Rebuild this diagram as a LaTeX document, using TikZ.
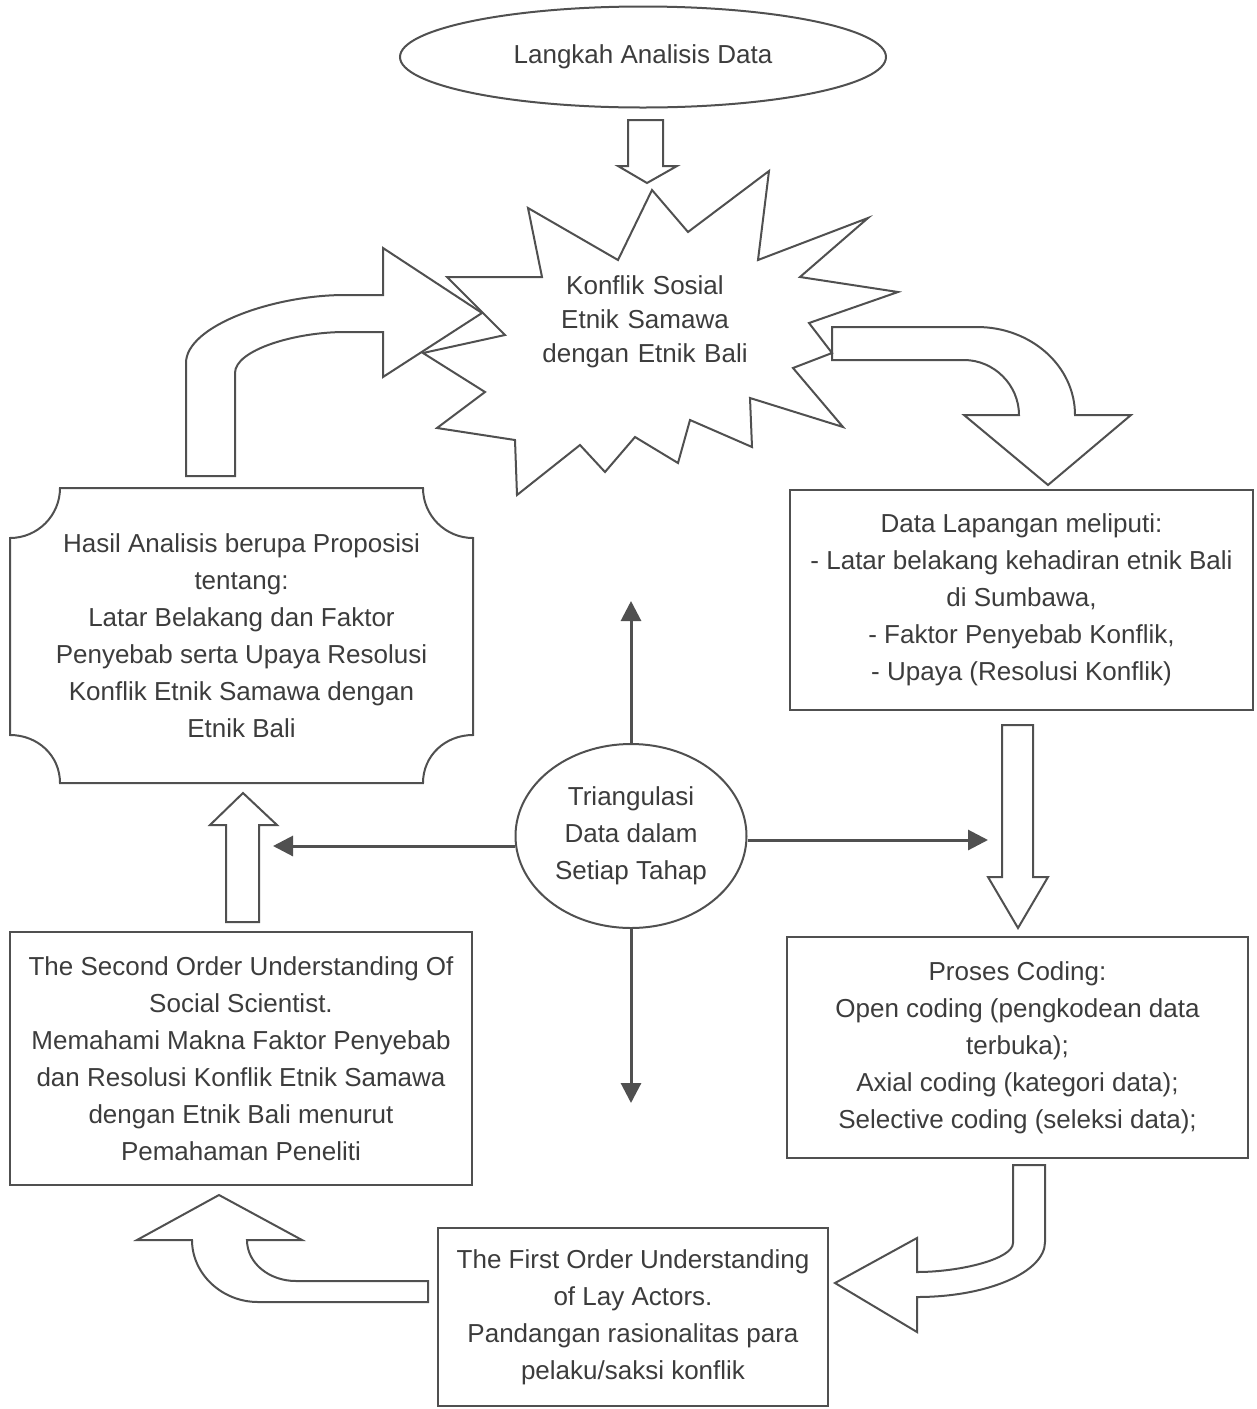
\documentclass[tikz,border=0pt]{standalone}
\usepackage{fontspec}
\setmainfont{Liberation Sans}
\usetikzlibrary{shapes.geometric,arrows.meta}
\definecolor{ln}{HTML}{505050}
\definecolor{tx}{HTML}{3C3C3C}
\begin{document}
\begin{tikzpicture}[x=1pt,y=-1pt,
  txt/.style={text=tx,font=\fontsize{26}{37}\selectfont,align=center,inner sep=0pt},
  box/.style={txt,draw=ln,line width=2pt,rectangle},
  blockarrow/.style={draw=ln,line width=2pt,line join=miter},
  tarrow/.style={draw=ln,line width=3pt,-{Triangle[length=20pt,width=20pt]}}]
\useasboundingbox (0,0) rectangle (1257,1409);

% top ellipse
\node[txt,draw=ln,line width=2pt,ellipse,minimum width=486pt,minimum height=101pt] (start) at (643,57) {Langkah Analisis Data};

% down block arrow from ellipse to starburst
\draw[blockarrow] (628,120) -- (663,120) -- (663,166) -- (677,166) -- (647,183) -- (618,166) -- (628,166) -- cycle;

% starburst
\draw[blockarrow] (652,190) -- (688,232) -- (769,171) -- (758,260) -- (868,218) -- (800,277)
  -- (898,292) -- (809,323) -- (832,353) -- (793,368) -- (843,427) -- (750,398) -- (752,447)
  -- (690,420) -- (678,463) -- (635,437) -- (605,472) -- (580,445) -- (517,495) -- (515,440)
  -- (437,428) -- (485,392) -- (423,353) -- (505,335) -- (447,277) -- (542,277) -- (528,208)
  -- (618,260) -- cycle;
\node[txt,text width=260pt,font=\fontsize{26}{34}\selectfont] (konflik) at (645,322) {Konflik Sosial\\ Etnik Samawa\\ dengan Etnik Bali};

% right curved arrow (starburst -> data)
\draw[blockarrow] (832,327) -- (977,327) .. controls (1031,327) and (1075,366) .. (1075,415)
  -- (1131,415) -- (1048,485) -- (964,415) -- (1019,415)
  .. controls (1019,385) and (994,360) .. (964,360) -- (832,360) -- cycle;

% data box
\node[box,minimum width=463pt,minimum height=220pt] (data) at (1021.5,600)
  {Data Lapangan meliputi:\\ - Latar belakang kehadiran etnik Bali\\ di Sumbawa,\\ - Faktor Penyebab Konflik,\\ - Upaya (Resolusi Konflik)};

% down block arrow data -> proses
\draw[blockarrow] (1002,725) -- (1033,725) -- (1033,877) -- (1048,877) -- (1018,928) -- (988,877) -- (1002,877) -- cycle;

% proses box
\node[box,minimum width=461pt,minimum height=221pt] (proses) at (1017.5,1047.5)
  {Proses Coding:\\ Open coding (pengkodean data\\ terbuka);\\ Axial coding (kategori data);\\ Selective coding (seleksi data);};

% curved arrow proses -> first
\draw[blockarrow] (1013,1165) -- (1045,1165) -- (1045,1242) .. controls (1045,1272) and (988,1297) .. (917,1297)
  -- (917,1332) -- (835,1283) -- (917,1238) -- (917,1272)
  .. controls (960,1272) and (1013,1259) .. (1013,1243) -- cycle;

% first order box
\node[box,minimum width=390pt,minimum height=178pt] (first) at (633,1317)
  {The First Order Understanding\\ of Lay Actors.\\ Pandangan rasionalitas para\\ pelaku/saksi konflik};

% curved arrow first -> second
\draw[blockarrow] (428,1281) -- (296,1281) .. controls (269,1281) and (247,1263) .. (247,1240)
  -- (302,1240) -- (219,1195) -- (137,1240) -- (192,1240)
  .. controls (192,1274) and (222,1302) .. (258,1302) -- (428,1302) -- cycle;

% second order box
\node[box,minimum width=462pt,minimum height=253pt] (second) at (241,1058.5)
  {The Second Order Understanding Of\\ Social Scientist.\\ Memahami Makna Faktor Penyebab\\ dan Resolusi Konflik Etnik Samawa\\ dengan Etnik Bali menurut\\ Pemahaman Peneliti};

% up block arrow second -> hasil
\draw[blockarrow] (226,922) -- (259,922) -- (259,825) -- (277,825) -- (243,793) -- (210,825) -- (226,825) -- cycle;

% hasil plaque
\draw[blockarrow] (60,488) -- (423,488) .. controls (423,515.6) and (445.4,538) .. (473,538)
  -- (473,735) .. controls (445.4,735) and (423,755.4) .. (423,783)
  -- (60,783) .. controls (60,755.4) and (37.6,735) .. (10,735)
  -- (10,538) .. controls (37.6,538) and (60,515.6) .. (60,488) -- cycle;
\node[txt] (hasil) at (241.5,636)
  {Hasil Analisis berupa Proposisi\\ tentang:\\ Latar Belakang dan Faktor\\ Penyebab serta Upaya Resolusi\\ Konflik Etnik Samawa dengan\\ Etnik Bali};

% left curved arrow hasil -> starburst
\draw[blockarrow] (186,476) -- (186,363) .. controls (186,326) and (273,295) .. (345,295) -- (383,295)
  -- (383,248) -- (482,313) -- (383,377) -- (383,332) -- (345,332)
  .. controls (295,332) and (235,350) .. (235,373) -- (235,476) -- cycle;

% triangulasi
\node[txt,draw=ln,line width=2pt,ellipse,minimum width=231pt,minimum height=184pt] (tri) at (631,836)
  {Triangulasi\\ Data dalam\\ Setiap Tahap};
\coordinate (tup) at (631,601);
\coordinate (tdown) at (631,1103);
\coordinate (tleft) at (273,846);
\coordinate (tright) at (988,840);
\draw[tarrow] (tri.north) -- (tup);
\draw[tarrow] (tri.south) -- (tdown);
\draw[tarrow] ([yshift=-10pt]tri.west) -- (tleft);
\draw[tarrow] ([yshift=-4pt]tri.east) -- (tright);
\end{tikzpicture}
\end{document}
